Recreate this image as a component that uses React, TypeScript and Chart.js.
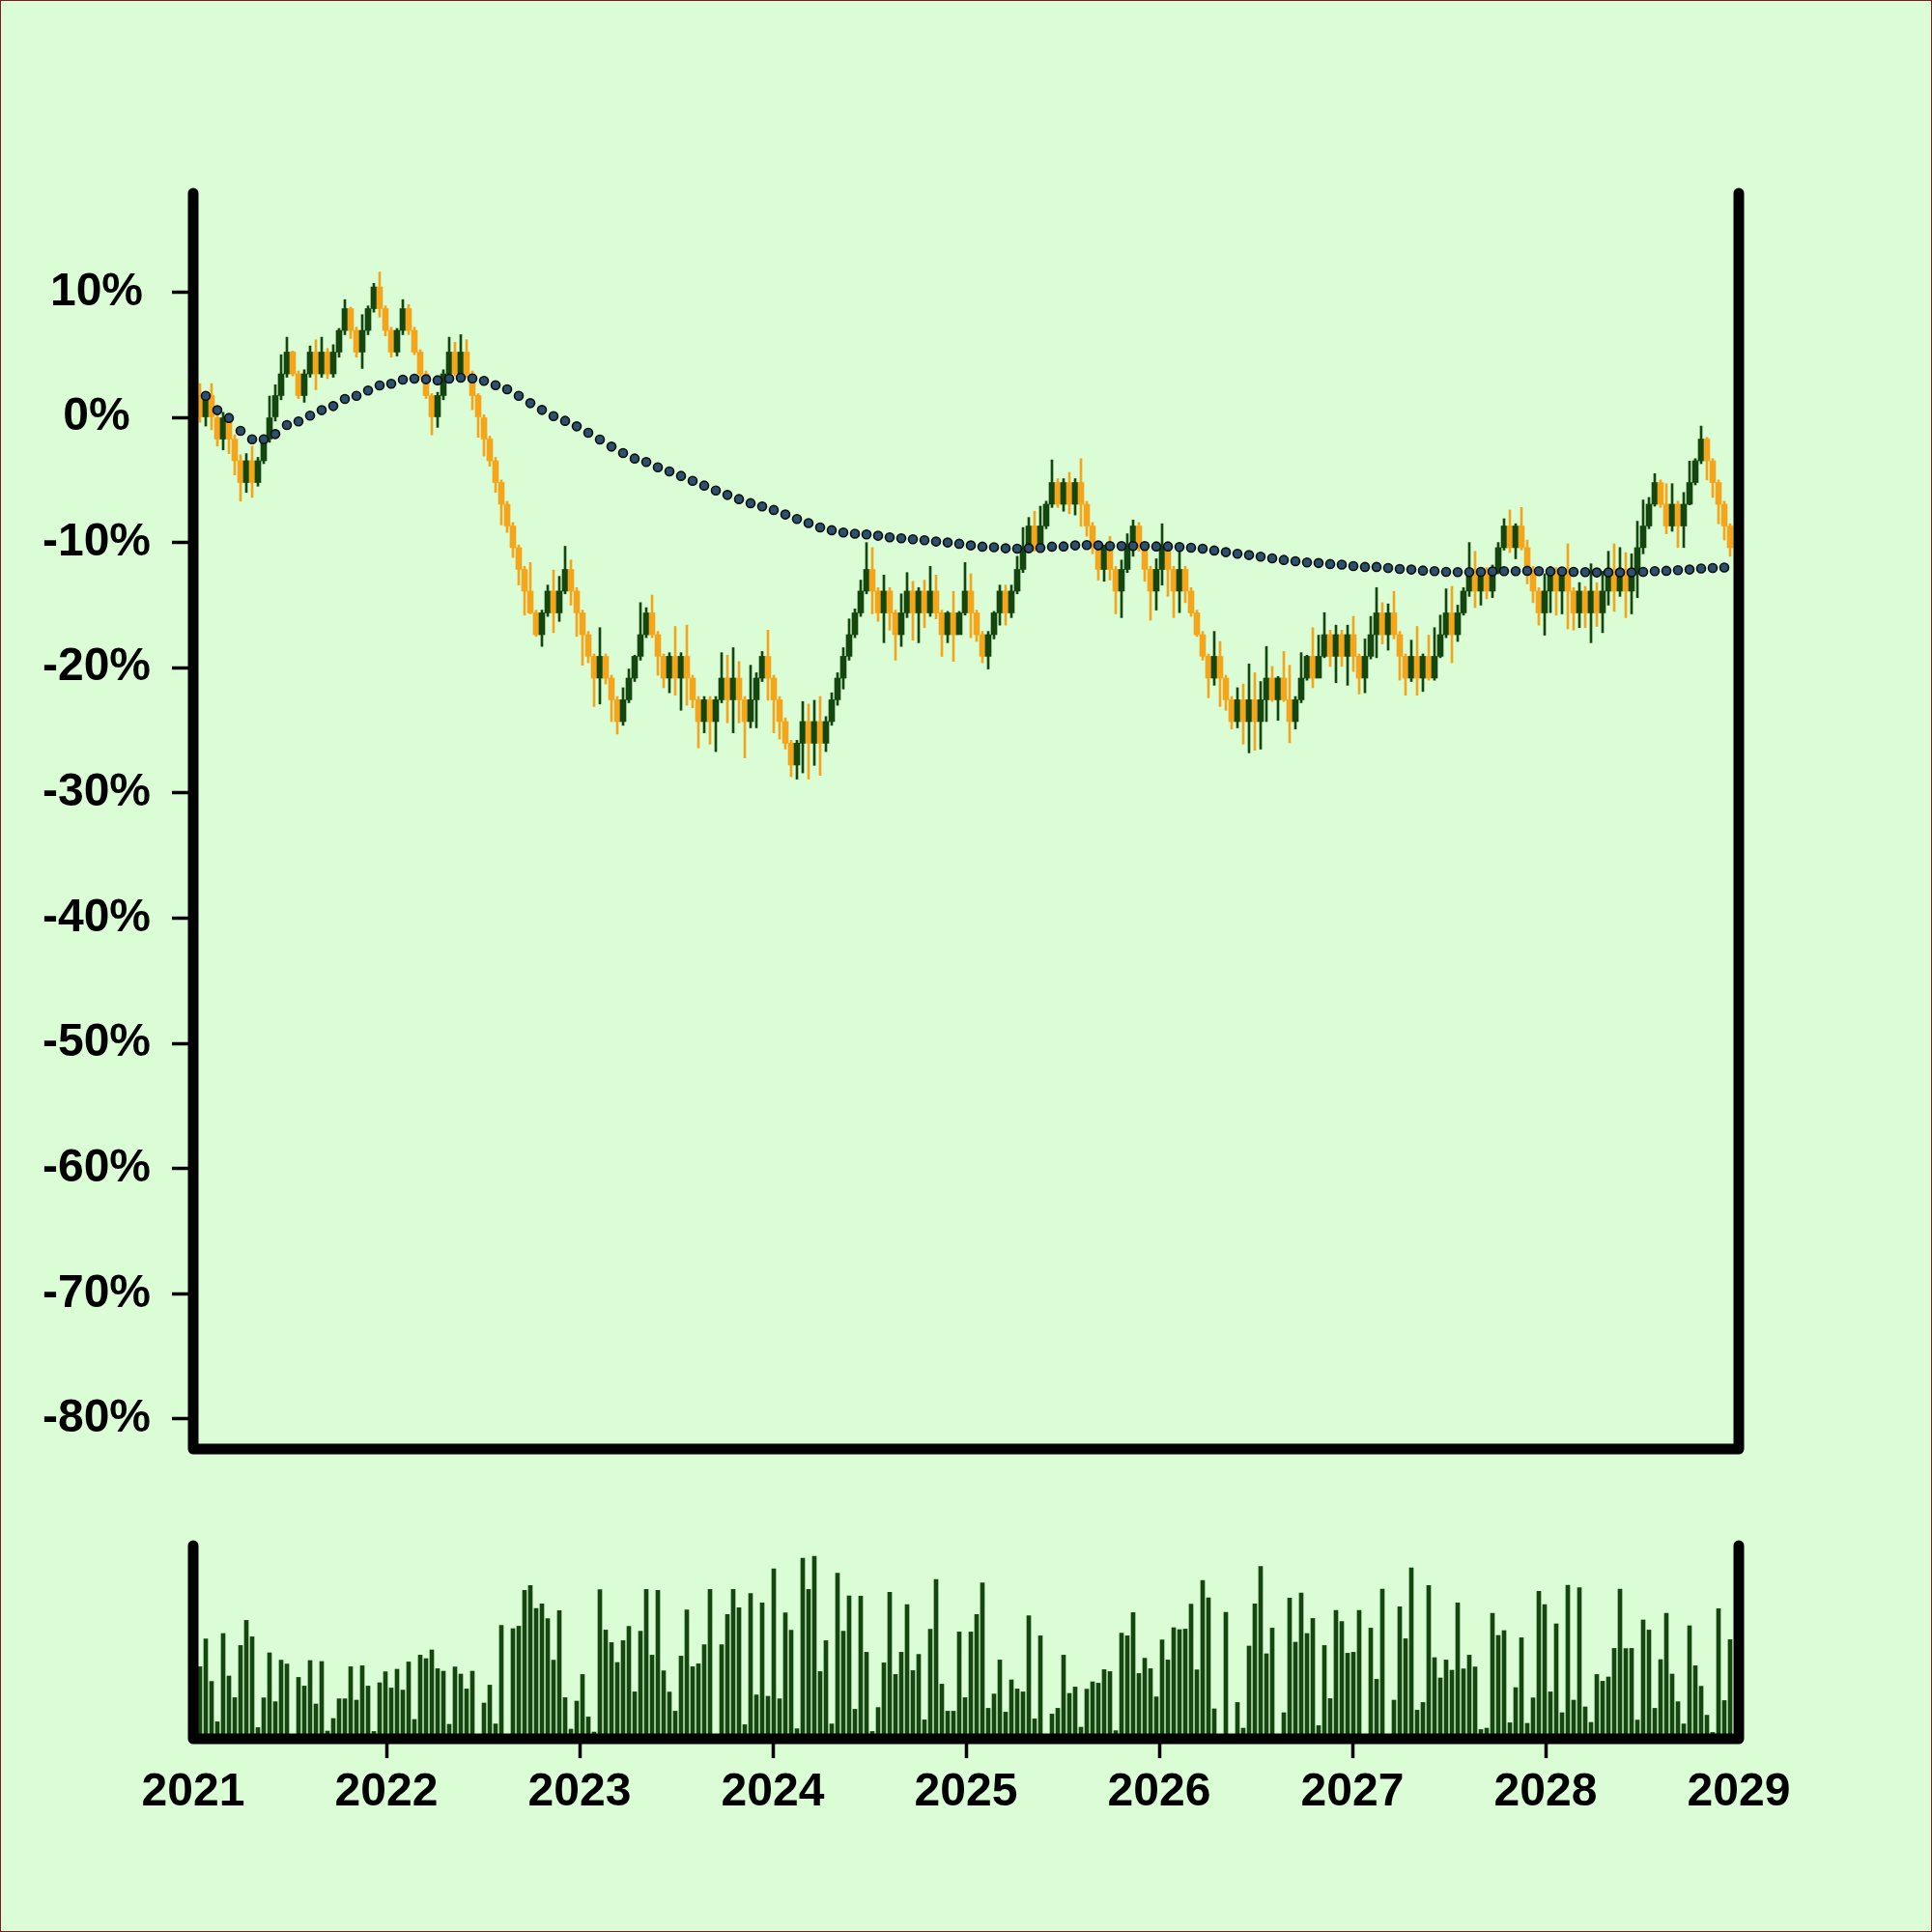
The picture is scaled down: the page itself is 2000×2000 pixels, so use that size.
import React, { useEffect, useRef } from 'react';
import { Chart, registerables } from 'chart.js';
Chart.register(...registerables);

// time axis (fractional years), one candle every ~11 days
const FIRST_X = 2021.035;
const STEP_X = 0.03;

const opens = [
  1.74, 0, 1.74, 0, -1.74, 0, -1.74, -3.47, -5.21, -3.47,
  -5.21, -3.47, -1.74, 0, 1.74, 3.47, 5.21, 3.47, 1.74, 3.47,
  5.21, 3.47, 5.21, 3.47, 5.21, 6.94, 8.68, 6.94, 5.21, 6.94,
  8.68, 10.41, 8.68, 6.94, 5.21, 6.94, 8.68, 6.94, 5.21, 3.47,
  1.74, 0, 1.74, 3.47, 5.21, 3.47, 5.21, 3.47, 1.74, 0,
  -1.74, -3.47, -5.21, -6.94, -8.68, -10.41, -12.15, -13.88, -15.62, -17.36,
  -15.62, -13.88, -15.62, -13.88, -12.15, -13.88, -15.62, -17.36, -19.09, -20.83,
  -19.09, -20.83, -22.56, -24.3, -22.56, -20.83, -19.09, -17.36, -15.62, -17.36,
  -19.09, -20.83, -19.09, -20.83, -19.09, -20.83, -22.56, -24.3, -22.56, -24.3,
  -22.56, -20.83, -22.56, -20.83, -22.56, -24.3, -22.56, -20.83, -19.09, -20.83,
  -22.56, -24.3, -26.03, -27.77, -26.03, -24.3, -26.03, -24.3, -26.03, -24.3,
  -22.56, -20.83, -19.09, -17.36, -15.62, -13.88, -12.15, -13.88, -15.62, -13.88,
  -15.62, -17.36, -15.62, -13.88, -15.62, -13.88, -15.62, -13.88, -15.62, -17.36,
  -15.62, -17.36, -15.62, -13.88, -15.62, -17.36, -19.09, -17.36, -15.62, -13.88,
  -15.62, -13.88, -12.15, -10.41, -8.68, -10.41, -8.68, -6.94, -5.21, -6.94,
  -5.21, -6.94, -5.21, -6.94, -8.68, -10.41, -12.15, -10.41, -12.15, -13.88,
  -12.15, -10.41, -8.68, -10.41, -12.15, -13.88, -12.15, -10.41, -12.15, -13.88,
  -12.15, -13.88, -15.62, -17.36, -19.09, -20.83, -19.09, -20.83, -22.56, -24.3,
  -22.56, -24.3, -22.56, -24.3, -22.56, -20.83, -22.56, -20.83, -22.56, -24.3,
  -22.56, -20.83, -19.09, -20.83, -19.09, -17.36, -19.09, -17.36, -19.09, -17.36,
  -19.09, -20.83, -19.09, -17.36, -15.62, -17.36, -15.62, -17.36, -19.09, -20.83,
  -19.09, -20.83, -19.09, -20.83, -19.09, -17.36, -15.62, -17.36, -15.62, -13.88,
  -12.15, -13.88, -12.15, -13.88, -12.15, -10.41, -8.68, -10.41, -8.68, -10.41,
  -12.15, -13.88, -15.62, -13.88, -12.15, -13.88, -12.15, -13.88, -15.62, -13.88,
  -15.62, -13.88, -15.62, -13.88, -12.15, -13.88, -12.15, -13.88, -12.15, -10.41,
  -8.68, -6.94, -5.21, -6.94, -8.68, -6.94, -8.68, -6.94, -5.21, -3.47,
  -1.74, -3.47, -5.21, -6.94, -8.68,
];

const closes = [
  0, 1.74, 0, -1.74, 0, -1.74, -3.47, -5.21, -3.47, -5.21,
  -3.47, -1.74, 0, 1.74, 3.47, 5.21, 3.47, 1.74, 3.47, 5.21,
  3.47, 5.21, 3.47, 5.21, 6.94, 8.68, 6.94, 5.21, 6.94, 8.68,
  10.41, 8.68, 6.94, 5.21, 6.94, 8.68, 6.94, 5.21, 3.47, 1.74,
  0, 1.74, 3.47, 5.21, 3.47, 5.21, 3.47, 1.74, 0, -1.74,
  -3.47, -5.21, -6.94, -8.68, -10.41, -12.15, -13.88, -15.62, -17.36, -15.62,
  -13.88, -15.62, -13.88, -12.15, -13.88, -15.62, -17.36, -19.09, -20.83, -19.09,
  -20.83, -22.56, -24.3, -22.56, -20.83, -19.09, -17.36, -15.62, -17.36, -19.09,
  -20.83, -19.09, -20.83, -19.09, -20.83, -22.56, -24.3, -22.56, -24.3, -22.56,
  -20.83, -22.56, -20.83, -22.56, -24.3, -22.56, -20.83, -19.09, -20.83, -22.56,
  -24.3, -26.03, -27.77, -26.03, -24.3, -26.03, -24.3, -26.03, -24.3, -22.56,
  -20.83, -19.09, -17.36, -15.62, -13.88, -12.15, -13.88, -15.62, -13.88, -15.62,
  -17.36, -15.62, -13.88, -15.62, -13.88, -15.62, -13.88, -15.62, -17.36, -15.62,
  -17.36, -15.62, -13.88, -15.62, -17.36, -19.09, -17.36, -15.62, -13.88, -15.62,
  -13.88, -12.15, -10.41, -8.68, -10.41, -8.68, -6.94, -5.21, -6.94, -5.21,
  -6.94, -5.21, -6.94, -8.68, -10.41, -12.15, -10.41, -12.15, -13.88, -12.15,
  -10.41, -8.68, -10.41, -12.15, -13.88, -12.15, -10.41, -12.15, -13.88, -12.15,
  -13.88, -15.62, -17.36, -19.09, -20.83, -19.09, -20.83, -22.56, -24.3, -22.56,
  -24.3, -22.56, -24.3, -22.56, -20.83, -22.56, -20.83, -22.56, -24.3, -22.56,
  -20.83, -19.09, -20.83, -19.09, -17.36, -19.09, -17.36, -19.09, -17.36, -19.09,
  -20.83, -19.09, -17.36, -15.62, -17.36, -15.62, -17.36, -19.09, -20.83, -19.09,
  -20.83, -19.09, -20.83, -19.09, -17.36, -15.62, -17.36, -15.62, -13.88, -12.15,
  -13.88, -12.15, -13.88, -12.15, -10.41, -8.68, -10.41, -8.68, -10.41, -12.15,
  -13.88, -15.62, -13.88, -12.15, -13.88, -12.15, -13.88, -15.62, -13.88, -15.62,
  -13.88, -15.62, -13.88, -12.15, -13.88, -12.15, -13.88, -12.15, -10.41, -8.68,
  -6.94, -5.21, -6.94, -8.68, -6.94, -8.68, -6.94, -5.21, -3.47, -1.74,
  -3.47, -5.21, -6.94, -8.68, -10.41,
];

const highs = [
  2.7, 1.9, 2.7, 0.3, 0.4, 0.2, -1.4, -3.0, -2.9, -2.3,
  -3.2, -1.4, 1.7, 2.6, 5.0, 6.4, 5.3, 3.7, 3.8, 5.7,
  6.2, 6.4, 5.5, 5.8, 7.1, 9.4, 8.8, 7.2, 8.2, 8.9,
  10.7, 11.6, 8.9, 7.2, 7.1, 9.4, 9.0, 7.2, 5.4, 3.7,
  1.9, 2.0, 3.8, 6.4, 6.0, 6.6, 6.2, 3.7, 1.9, 0.2,
  -1.5, -3.2, -5.0, -6.7, -8.4, -10.2, -11.9, -11.6, -15.4, -15.4,
  -13.4, -12.2, -12.7, -10.3, -11.4, -13.6, -15.4, -17.1, -18.9, -16.8,
  -18.9, -20.6, -22.3, -21.6, -20.1, -19.0, -14.8, -15.2, -14.2, -17.1,
  -18.9, -18.8, -16.7, -18.8, -16.6, -20.6, -22.3, -22.3, -22.3, -22.3,
  -18.8, -19.0, -18.4, -19.5, -22.3, -19.8, -20.4, -18.7, -17.0, -20.6,
  -22.3, -24.0, -25.8, -25.8, -22.7, -22.9, -22.6, -22.3, -23.9, -22.0,
  -20.4, -18.4, -16.1, -15.3, -13.0, -10.0, -10.4, -13.6, -12.6, -13.6,
  -15.4, -14.1, -12.4, -13.1, -13.6, -13.0, -11.9, -12.6, -15.4, -15.5,
  -13.9, -15.5, -11.6, -12.5, -15.4, -17.1, -17.1, -15.5, -13.4, -13.4,
  -13.4, -11.1, -8.8, -8.0, -7.5, -7.1, -6.7, -3.4, -4.9, -4.9,
  -4.4, -4.9, -3.3, -6.7, -8.4, -10.2, -10.2, -9.5, -11.9, -11.4,
  -9.3, -8.2, -8.4, -10.2, -11.9, -11.3, -8.5, -10.2, -11.9, -10.4,
  -11.9, -13.6, -15.4, -17.1, -18.9, -17.1, -17.9, -20.6, -22.3, -21.6,
  -21.3, -19.7, -20.4, -21.1, -18.3, -19.9, -20.7, -18.7, -19.8, -22.3,
  -18.8, -19.0, -16.8, -17.4, -15.6, -17.0, -16.6, -17.0, -16.6, -15.9,
  -18.9, -17.7, -15.9, -13.6, -14.8, -14.9, -13.9, -17.1, -18.9, -17.8,
  -16.7, -18.9, -17.4, -16.8, -15.8, -13.7, -13.5, -15.0, -13.6, -10.0,
  -10.7, -12.0, -12.0, -11.8, -10.0, -8.1, -7.4, -8.5, -7.2, -9.8,
  -11.9, -13.6, -12.5, -11.9, -12.0, -12.0, -10.1, -13.6, -13.2, -13.5,
  -11.7, -13.2, -12.3, -10.7, -10.1, -10.4, -10.8, -10.9, -8.3, -6.6,
  -6.4, -4.5, -5.0, -5.3, -5.3, -6.7, -6.0, -3.5, -3.3, -0.7,
  -1.6, -3.3, -5.0, -6.7, -8.5,
];

const lows = [
  -0.4, -0.7, -1.0, -2.3, -2.6, -2.9, -4.6, -6.7, -6.0, -6.4,
  -5.5, -3.7, -2.0, -0.3, 1.4, 3.2, 3.3, 1.5, 1.2, 3.2,
  2.2, 3.2, 3.1, 3.2, 4.8, 6.6, 6.3, 4.8, 3.9, 6.6,
  8.4, 8.0, 6.5, 4.8, 4.9, 6.6, 6.6, 5.0, 3.2, 1.5,
  -1.4, -0.8, 1.4, 3.2, 3.3, 3.2, 3.2, 0.6, -1.6, -3.1,
  -3.9, -6.0, -8.6, -9.2, -11.2, -13.4, -15.8, -15.7, -17.5, -18.3,
  -15.9, -17.2, -16.3, -14.1, -15.0, -17.5, -19.8, -19.6, -23.1, -22.9,
  -21.3, -24.3, -25.3, -24.6, -22.8, -21.1, -19.4, -17.6, -17.6, -20.6,
  -21.6, -22.0, -22.2, -23.4, -23.0, -23.2, -26.4, -25.2, -26.1, -26.7,
  -22.8, -24.4, -25.2, -24.4, -27.2, -24.8, -24.8, -21.1, -22.6, -25.2,
  -25.7, -26.5, -28.7, -28.9, -28.4, -28.9, -27.8, -28.6, -26.7, -24.6,
  -23.0, -21.7, -19.4, -17.6, -15.9, -14.1, -15.7, -16.3, -18.0, -17.0,
  -19.4, -18.3, -16.0, -17.8, -18.0, -16.8, -15.9, -16.1, -19.1, -18.0,
  -19.5, -17.3, -15.8, -17.6, -17.9, -19.6, -20.1, -17.7, -16.6, -16.6,
  -16.0, -14.1, -12.4, -10.6, -10.7, -10.2, -8.9, -7.2, -7.2, -7.5,
  -7.7, -7.8, -8.7, -9.5, -10.9, -13.0, -13.1, -13.0, -15.7, -16.0,
  -12.4, -11.1, -10.7, -13.1, -16.2, -15.4, -13.4, -14.3, -16.0, -15.6,
  -14.8, -15.9, -17.5, -19.4, -22.4, -21.4, -23.1, -23.4, -24.9, -24.8,
  -26.1, -26.8, -26.6, -26.5, -24.3, -22.7, -24.2, -22.7, -26.0, -24.9,
  -22.8, -21.0, -21.6, -20.6, -19.2, -19.9, -21.2, -19.9, -21.4, -20.3,
  -22.1, -22.0, -19.3, -19.2, -18.1, -18.6, -17.7, -21.0, -22.2, -21.1,
  -22.2, -21.9, -21.0, -21.0, -19.2, -17.6, -19.6, -17.9, -15.8, -14.3,
  -15.2, -15.0, -14.5, -14.4, -12.5, -10.6, -10.8, -11.3, -10.6, -13.3,
  -14.8, -16.6, -17.4, -15.6, -15.8, -15.7, -16.9, -17.0, -16.8, -16.8,
  -18.0, -16.7, -17.2, -15.0, -15.5, -14.3, -16.0, -15.7, -14.4, -10.9,
  -8.9, -7.1, -7.2, -9.3, -9.1, -10.4, -10.4, -7.0, -5.4, -3.7,
  -5.0, -6.4, -8.5, -9.8, -11.1,
];

// moving-average dots, one on every second candle (candles 1, 3, 5, ...)
const maValues = [
  1.72, 0.57, -0.05, -1.08, -1.75, -1.75, -1.34, -0.62, -0.33, 0.13,
  0.57, 0.9, 1.47, 1.72, 2.14, 2.55, 2.68, 3.01, 3.09, 3.04,
  2.96, 3.09, 3.16, 3.11, 2.91,
  2.57, 2.24, 1.72, 1.13, 0.59, 0.1, -0.28, -0.72, -1.23, -1.77,
  -2.34, -2.85, -3.29, -3.57, -3.99, -4.32, -4.68, -5.07, -5.45, -5.84,
  -6.2, -6.53, -6.86, -7.12, -7.4, -7.76,
  -8.12, -8.45, -8.79, -9.02, -9.2, -9.3, -9.35, -9.46, -9.59, -9.66,
  -9.74, -9.82, -9.92, -10.0, -10.1, -10.23, -10.33, -10.38, -10.46, -10.49,
  -10.46, -10.43, -10.33, -10.31,
  -10.23, -10.2, -10.23, -10.28, -10.28, -10.28, -10.28, -10.31, -10.31, -10.36,
  -10.41, -10.49, -10.64, -10.77, -10.9, -11.0, -11.13, -11.26, -11.39, -11.49,
  -11.59, -11.64, -11.72, -11.77, -11.88,
  -11.95, -11.95, -12.03, -12.11, -12.16, -12.24, -12.29, -12.34, -12.36, -12.36,
  -12.34, -12.31, -12.29, -12.29, -12.26, -12.29, -12.31, -12.31, -12.34, -12.36,
  -12.39, -12.39, -12.39, -12.39, -12.34, -12.29, -12.26, -12.21, -12.16, -12.08,
  -12.03, -12.0,
];

const volumes = [
  37.3, 51.7, 29.7, 8.8, 54.5, 32.5, 21.3, 48.3, 61.3, 52.8,
  5.8, 21.2, 44.5, 19.2, 40.7, 38.7, 0, 31.8, 27.3, 40.5,
  18, 40, 4, 10.5, 20.7, 20.7, 37.3, 20, 37.8, 27.3,
  3.8, 29, 34.7, 26.3, 36, 25.2, 39.8, 10, 43.3, 41.5,
  46, 36.3, 35, 7.5, 37.2, 33.5, 25.8, 35, 0, 18.5,
  27.8, 7.7, 58.7, 0, 57, 58.3, 76.8, 79.3, 67.5, 69.8,
  62.2, 40.7, 66.3, 21.3, 5, 19.5, 33.3, 11.3, 3.5, 77.2,
  56.3, 49.8, 39.5, 50.8, 58.2, 24.3, 55.7, 77.3, 43.3, 76.8,
  35.2, 24.2, 14.3, 42.8, 66.7, 37.3, 38.8, 48.7, 77.3, 0,
  48.7, 64.3, 77.3, 67.8, 7.3, 75.2, 22.7, 70.3, 22, 88,
  20.7, 65.2, 56.2, 5.2, 93.5, 77.3, 94.5, 34.8, 50.8, 7.7,
  85.7, 55.7, 74, 15.3, 73.8, 44.8, 3.8, 16.2, 39.3, 75.8,
  33.3, 44.8, 69.5, 35.3, 43.7, 9.8, 56.7, 82.5, 28.3, 14.3,
  14.3, 55.3, 21.3, 55.3, 64.3, 80.7, 15.8, 23.2, 40.8, 13.8,
  30.5, 25.8, 24.3, 63.7, 10.3, 53.3, 0, 12.8, 15.8, 43.3,
  23.5, 26.8, 6, 25.7, 29.5, 28.8, 35.8, 34.8, 4.2, 54.7,
  53.3, 65.3, 33.8, 41.7, 36.3, 21.7, 51.2, 40.8, 57.5, 56.5,
  56.8, 69.7, 35.7, 82, 73, 15.5, 0, 65.5, 0, 18.8,
  5.5, 48, 69.8, 89.2, 44, 57.3, 0, 13.5, 72.8, 50,
  75.5, 54.5, 62.3, 6.8, 48.3, 20.8, 66.5, 60.7, 44.3, 44.8,
  66.5, 0, 57.3, 30.8, 77.5, 0, 20, 68.3, 51.8, 88.5,
  14.8, 18.8, 79.3, 42, 31.5, 40.8, 35.5, 70.3, 36.2, 43.3,
  37.2, 4.8, 5.5, 65, 53.5, 56, 8.3, 26.5, 52.3, 8,
  21.2, 76.3, 69.5, 24.3, 59.5, 13.5, 79.5, 20, 78.2, 16.5,
  8.5, 33.3, 29.8, 32, 46.8, 77.5, 46.7, 46.8, 9.7, 61.5,
  56.3, 15.8, 41, 65, 33.5, 19.2, 7.7, 58.5, 37.8, 27.2,
  12.2, 3.3, 67.3, 19.8, 51.3,
];

const yearTicks = [2021, 2022, 2023, 2024, 2025, 2026, 2027, 2028, 2029];
const pctTicks = [10, 0, -10, -20, -30, -40, -50, -60, -70, -80];

const UP = '#14470f';
const DOWN = '#f3a61b';
const BG = '#dafdd6';
const FONT = { family: "'Liberation Sans', Arial, sans-serif", weight: 'bold' as const, size: 48 };

const dates = closes.map((_, i) => FIRST_X + STEP_X * i);
const candleColors = closes.map((c, i) => (c >= opens[i] ? UP : DOWN));

const framePlugin = {
  id: 'frame',
  afterDatasetsDraw(chart: any) {
    const { ctx, chartArea } = chart;
    const { left, right, top, bottom } = chartArea;
    ctx.save();
    ctx.strokeStyle = '#000';
    ctx.lineWidth = 11;
    ctx.lineCap = 'round';
    ctx.lineJoin = 'round';
    ctx.beginPath();
    ctx.moveTo(left, top);
    ctx.lineTo(left, bottom);
    ctx.lineTo(right, bottom);
    ctx.lineTo(right, top);
    ctx.stroke();
    ctx.restore();
  },
};

export default function App() {
  const priceRef = useRef<HTMLCanvasElement | null>(null);
  const volRef = useRef<HTMLCanvasElement | null>(null);

  useEffect(() => {
    document.body.style.margin = '0';
    if (!priceRef.current || !volRef.current) return;

    const price = new Chart(priceRef.current, {
      type: 'bar',
      data: {
        datasets: [
          {
            type: 'line',
            label: 'MA',
            data: maValues.map((v, k) => ({ x: dates[2 * k + 1], y: v })),
            showLine: false,
            pointRadius: 4.5,
            pointBackgroundColor: '#2c5070',
            pointBorderColor: '#0d0d0d',
            pointBorderWidth: 1.6,
            order: 0,
          } as any,
          {
            type: 'bar',
            label: 'body',
            data: dates.map((x, i) => ({ x, y: [opens[i], closes[i]] })),
            backgroundColor: candleColors,
            barThickness: 6,
            grouped: false,
            order: 1,
          } as any,
          {
            type: 'bar',
            label: 'wick',
            data: dates.map((x, i) => ({ x, y: [lows[i], highs[i]] })),
            backgroundColor: candleColors,
            barThickness: 2,
            grouped: false,
            order: 2,
          } as any,
        ],
      },
      options: {
        animation: false,
        responsive: false,
        maintainAspectRatio: false,
        devicePixelRatio: 1,
        layout: { padding: { left: 0, right: 200, top: 200, bottom: 60 } },
        plugins: { legend: { display: false }, tooltip: { enabled: false } },
        scales: {
          x: { type: 'linear', min: 2021, max: 2029, display: false, offset: false, grid: { offset: false } },
          y: {
            type: 'linear',
            min: -82.4,
            max: 17.9,
            afterBuildTicks: (s: any) => {
              s.ticks = pctTicks.map((v) => ({ value: v }));
            },
            afterFit: (s: any) => {
              s.width = 200;
            },
            ticks: {
              callback: (v: any) => `${v}%`,
              font: FONT,
              color: '#000',
              crossAlign: 'center',
              padding: 22,
            },
            grid: {
              drawOnChartArea: false,
              drawTicks: true,
              tickLength: 22,
              tickWidth: 3.5,
              tickColor: '#000',
            },
            border: { display: false },
          },
        },
      } as any,
      plugins: [framePlugin],
    });

    const vol = new Chart(volRef.current, {
      type: 'bar',
      data: {
        datasets: [
          {
            label: 'volume',
            data: dates.map((x, i) => ({ x, y: volumes[i] })),
            backgroundColor: UP,
            barThickness: 4,
            grouped: false,
          } as any,
        ],
      },
      options: {
        animation: false,
        responsive: false,
        maintainAspectRatio: false,
        devicePixelRatio: 1,
        layout: { padding: { left: 200, right: 200, top: 60, bottom: 0 } },
        plugins: { legend: { display: false }, tooltip: { enabled: false } },
        scales: {
          x: {
            type: 'linear',
            min: 2021,
            max: 2029,
            offset: false,
            afterBuildTicks: (s: any) => {
              s.ticks = yearTicks.map((v) => ({ value: v }));
            },
            afterFit: (s: any) => {
              s.height = 200;
            },
            ticks: {
              callback: (v: any) => String(v),
              font: FONT,
              color: '#000',
              padding: 7,
              maxRotation: 0,
              autoSkip: false,
            },
            grid: {
              offset: false,
              drawOnChartArea: false,
              drawTicks: true,
              tickLength: 20,
              tickWidth: 3.5,
              tickColor: (c: any) =>
                c.index === 0 || c.index === yearTicks.length - 1 ? 'rgba(0,0,0,0)' : '#000',
            },
            border: { display: false },
          },
          y: { type: 'linear', display: false, min: 0, max: 100 },
        },
      } as any,
      plugins: [framePlugin],
    });

    return () => {
      price.destroy();
      vol.destroy();
    };
  }, []);

  return (
    <div style={{ position: 'relative', width: 2000, height: 2000, background: BG, overflow: 'hidden' }}>
      <canvas
        ref={priceRef}
        width={2000}
        height={1560}
        style={{ position: 'absolute', left: 0, top: 0, width: 2000, height: 1560 }}
      />
      <canvas
        ref={volRef}
        width={2000}
        height={460}
        style={{ position: 'absolute', left: 0, top: 1540, width: 2000, height: 460 }}
      />
      <div
        style={{
          position: 'absolute',
          left: 0,
          top: 0,
          width: 2000,
          height: 2000,
          boxSizing: 'border-box',
          border: '1px solid #7a1c1c',
          pointerEvents: 'none',
        }}
      />
    </div>
  );
}
